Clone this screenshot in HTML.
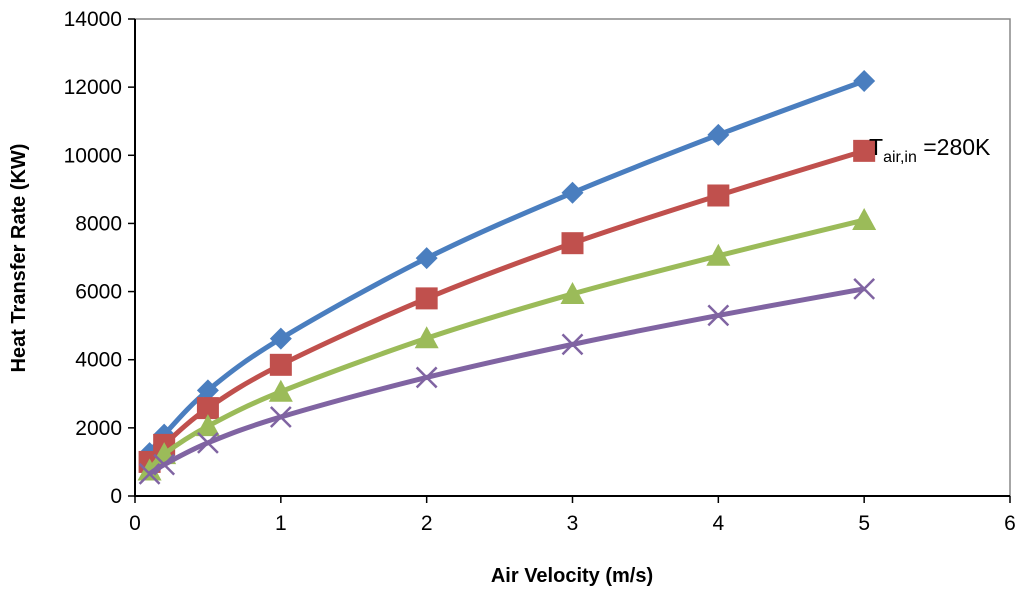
<!DOCTYPE html>
<html><head><meta charset="utf-8"><style>
body{margin:0;background:#fff;}
svg text{font-family:"Liberation Sans",sans-serif;}
</style></head><body>
<svg id="chart" width="1024" height="595" viewBox="0 0 1024 595" xmlns="http://www.w3.org/2000/svg">
<rect width="1024" height="595" fill="#fff"/>
<g id="axes"></g>
<g id="series"></g>
<text x="869" y="155" font-size="23" fill="#000">T<tspan font-size="16" dy="7">air,in</tspan><tspan dy="-7"> =280K</tspan></text>
<text x="572" y="582" font-size="20" font-weight="bold" text-anchor="middle">Air Velocity (m/s)</text>
<text transform="translate(25,258) rotate(-90)" font-size="20" font-weight="bold" text-anchor="middle">Heat Transfer Rate (KW)</text>
</svg>
<script>
const velocities=[0.1,0.2,0.5,1,2,3,4,5];
const seriesBlue=[1260,1800,3100,4620,6980,8900,10600,12180];
const seriesRed=[1000,1500,2580,3850,5800,7420,8820,10130];
const seriesGreen=[750,1230,2050,3060,4630,5930,7050,8100];
const seriesPurple=[650,920,1560,2320,3480,4450,5300,6080];
const xTicks=[0,1,2,3,4,5,6];
const yTicks=[0,2000,4000,6000,8000,10000,12000,14000];
const NS="http://www.w3.org/2000/svg";
const X0=135,X1=1010,Y0=496,Y1=19;
const sx=v=>X0+(X1-X0)*v/6, sy=v=>Y0-(Y0-Y1)*v/14000;
function mk(t,a,p){const e=document.createElementNS(NS,t);for(const k in a)e.setAttribute(k,a[k]);p.appendChild(e);return e;}
const ax=document.getElementById('axes');
const frame=mk('path',{d:`M${X0},${Y1}H${X1}V${Y0}`,fill:'none',stroke:'#888','stroke-width':1.5},ax);


const yl=mk('line',{x1:X0,y1:Y1,x2:X0,y2:Y0+1,stroke:'#000','stroke-width':2},ax);


const xl=mk('line',{x1:X0-1,y1:Y0,x2:X1,y2:Y0,stroke:'#000','stroke-width':2},ax);


yTicks.forEach(v=>{
 mk('line',{x1:X0-7,x2:X0,y1:sy(v),y2:sy(v),stroke:'#000','stroke-width':1.5},ax);
 const t=mk('text',{x:X0-13,y:sy(v)+7,'font-size':21,'text-anchor':'end'},ax);t.textContent=v;
 
 
});
xTicks.forEach(v=>{
 mk('line',{x1:sx(v),x2:sx(v),y1:Y0,y2:Y0+7,stroke:'#000','stroke-width':1.5},ax);
 const t=mk('text',{x:sx(v),y:Y0+34,'font-size':21,'text-anchor':'middle'},ax);t.textContent=v;
 
 
});
function smooth(pts){let d=`M${pts[0][0]},${pts[0][1]}`;
 for(let i=0;i<pts.length-1;i++){const p0=pts[i-1]||pts[i],p1=pts[i],p2=pts[i+1],p3=pts[i+2]||p2;
  d+=`C${p1[0]+(p2[0]-p0[0])/6},${p1[1]+(p2[1]-p0[1])/6} ${p2[0]-(p3[0]-p1[0])/6},${p2[1]-(p3[1]-p1[1])/6} ${p2[0]},${p2[1]}`;}
 return d;}
const sg=document.getElementById('series');
const defs=[[seriesBlue,'#4a7ebf','diamond','series-blue'],[seriesRed,'#c0504d','square','series-red'],[seriesGreen,'#9bbb59','triangle','series-green'],[seriesPurple,'#8064a2','cross','series-purple']];
defs.forEach(([vals,c,m,name])=>{
 const g=mk('g',{},sg);
 
 
 const pts=velocities.map((v,i)=>[sx(v),sy(vals[i])]);
 mk('path',{d:smooth(pts),fill:'none',stroke:c,'stroke-width':5},g);
 pts.forEach(([x,y])=>{let e;
  if(m==='diamond')e=mk('path',{d:`M${x},${y-11}L${x+11},${y}L${x},${y+11}L${x-11},${y}Z`,fill:c},g);
  else if(m==='square')e=mk('rect',{x:x-11,y:y-11,width:22,height:22,fill:c},g);
  else if(m==='triangle')e=mk('path',{d:`M${x},${y-12}L${x+12},${y+10}L${x-12},${y+10}Z`,fill:c},g);
  else e=mk('path',{d:`M${x-10},${y-10}L${x+10},${y+10}M${x+10},${y-10}L${x-10},${y+10}`,stroke:c,'stroke-width':2.5},g);
  
  
 });
});
</script>
</body></html>
